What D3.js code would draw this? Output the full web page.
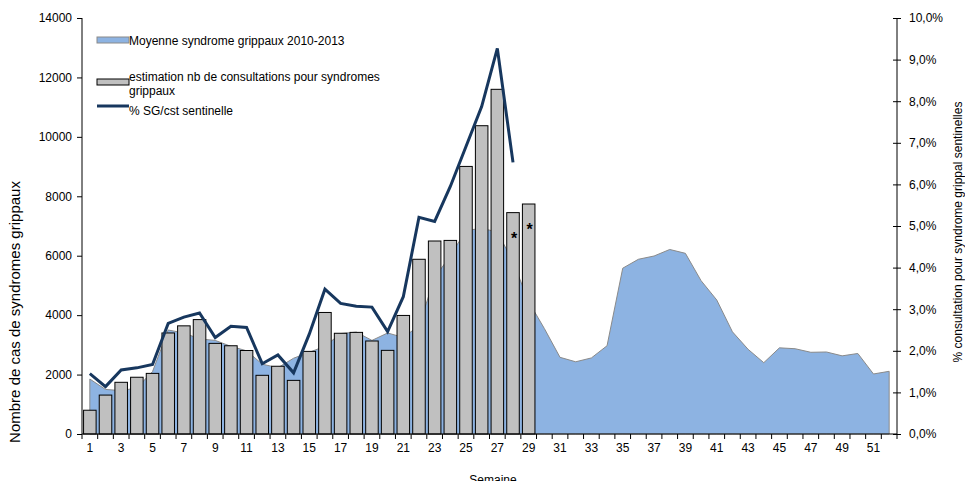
<!DOCTYPE html>
<html>
<head>
<meta charset="utf-8">
<script src="https://cdn.jsdelivr.net/npm/d3@7"></script>
<style>
  body { margin: 0; background: #fff; }
  svg { font-family: "Liberation Sans", Arial, sans-serif; }
</style>
</head>
<body>
<script>
// semaines 1..52
const weeks = d3.range(1, 53);

// moyenne 2010-2013 (aire bleue)
const moyenne = [1850, 1500, 1460, 1550, 2100, 3500, 3400, 3200, 3150, 2950,
  2800, 2350, 2230, 2550, 2750, 2950, 3380, 3430, 3150, 3400,
  3250, 3640, 5260, 6000, 6850, 6920, 6800, 5800, 4450, 3550,
  2580, 2430, 2560, 2970, 5580, 5880, 5990, 6210, 6080, 5160,
  4510, 3440, 2850, 2400, 2900, 2870, 2750, 2760, 2630, 2710,
  2020, 2110];

// estimation nb de consultations (barres), semaines 1..29
const consultations = [800, 1310, 1740, 1910, 2040, 3400, 3640, 3850, 3050, 2970,
  2810, 1975, 2280, 1805, 2780, 4090, 3390, 3420, 3130, 2815,
  3990, 5880, 6495, 6515, 9005, 10375, 11600, 7450, 7740];

// % SG/cst sentinelle, semaines 1..28
const pctSG = [1.45, 1.14, 1.54, 1.59, 1.67, 2.66, 2.81, 2.91, 2.32, 2.59,
  2.56, 1.69, 1.90, 1.47, 2.40, 3.48, 3.14, 3.07, 3.05, 2.46,
  3.30, 5.21, 5.11, 5.95, 6.91, 7.87, 9.27, 6.53];

// semaines marquees d'une etoile
const starred = [28, 29];

const leftTicks = d3.range(0, 14001, 2000);
const rightTicks = d3.range(0, 10.01, 1);

const W = 965, H = 481;
const x0 = 82, x1 = 897, yTop = 18, yBot = 434;

const svg = d3.select("body").append("svg")
  .attr("width", W).attr("height", H);

const x = d3.scaleBand().domain(weeks).range([x0, x1]).paddingInner(0.2).paddingOuter(0.1);
const xc = d => x(d) + x.bandwidth() / 2;
const y = d3.scaleLinear().domain([0, 14000]).range([yBot, yTop]);
const yR = d3.scaleLinear().domain([0, 10]).range([yBot, yTop]);

// aire moyenne
const area = d3.area()
  .x((d, i) => xc(weeks[i]))
  .y0(y(0))
  .y1(d => y(d));

svg.append("path")
  .datum(moyenne)
  .attr("d", area)
  .attr("fill", "#8db3e2")
  .attr("stroke", "#8a8a8a")
  .attr("stroke-width", 1);

// barres
svg.selectAll("rect.bar")
  .data(consultations)
  .enter()
  .append("rect")
  .attr("class", "bar")
  .attr("x", (d, i) => x(weeks[i]))
  .attr("width", x.bandwidth())
  .attr("y", d => y(d))
  .attr("height", d => y(0) - y(d))
  .attr("fill", "#c0c0c0")
  .attr("stroke", "#000")
  .attr("stroke-width", 1);

// etoiles
svg.selectAll("text.star")
  .data(starred)
  .enter()
  .append("text")
  .attr("x", d => xc(d) + 1)
  .attr("y", d => y(consultations[d - 1]) + 31)
  .attr("text-anchor", "middle")
  .attr("font-size", 16)
  .attr("font-weight", "bold")
  .text("*");

// ligne %
const line = d3.line()
  .x((d, i) => xc(weeks[i]))
  .y(d => yR(d));

svg.append("path")
  .datum(pctSG)
  .attr("d", line)
  .attr("fill", "none")
  .attr("stroke", "#17375e")
  .attr("stroke-width", 3)
  .attr("stroke-linejoin", "miter");

// axe gauche
const axL = svg.append("g")
  .attr("transform", `translate(${x0},0)`)
  .call(d3.axisLeft(y).tickValues(leftTicks).tickSize(5).tickPadding(5).tickFormat(d3.format("d")));

// axe droit
const axR = svg.append("g")
  .attr("transform", `translate(${x1},0)`)
  .call(d3.axisRight(yR).tickValues(rightTicks).tickSize(4).tickPadding(8)
    .tickFormat(d => d.toFixed(1).replace(".", ",") + "%"));
axR.selectAll(".tick line").attr("x1", -4);

// axe x
const axX = svg.append("g")
  .attr("transform", `translate(0,${yBot})`)
  .call(d3.axisBottom(x).tickSize(0).tickPadding(9)
    .tickFormat(d => d % 2 === 1 ? d : ""));
axX.select(".domain").attr("d", `M${x0},0H${x1}`);
// graduations aux limites des categories
axX.selectAll("line.cat")
  .data(d3.range(0, 53))
  .enter()
  .append("line")
  .attr("class", "cat")
  .attr("x1", i => x0 + i * (x1 - x0) / 52)
  .attr("x2", i => x0 + i * (x1 - x0) / 52)
  .attr("y1", 0).attr("y2", 5)
  .attr("stroke", "#000");

[axL, axR, axX].forEach(g => {
  g.selectAll("text").attr("font-size", 12).attr("fill", "#000")
    .attr("font-family", "'Liberation Sans', Arial, sans-serif");
  g.select(".domain").attr("stroke", "#000");
  g.selectAll(".tick line").attr("stroke", "#000");
});
axL.select(".domain").attr("d", `M0,${yBot}V${yTop}`);
axR.select(".domain").attr("d", `M0,${yBot}V${yTop}`);

// titres
svg.append("text")
  .attr("transform", "translate(20,312) rotate(-90)")
  .attr("text-anchor", "middle")
  .attr("font-size", 15)
  .text("Nombre de cas de syndromes grippaux");

svg.append("text")
  .attr("transform", "translate(962,232) rotate(-90)")
  .attr("text-anchor", "middle")
  .attr("font-size", 12)
  .text("% consultation pour syndrome grippal sentinelles");

svg.append("text")
  .attr("x", 493).attr("y", 484)
  .attr("text-anchor", "middle")
  .attr("font-size", 12)
  .text("Semaine");

// legende
const lg = svg.append("g").attr("font-size", 12);
lg.append("rect").attr("x", 97).attr("y", 37).attr("width", 32).attr("height", 6)
  .attr("fill", "#8db3e2").attr("stroke", "#8a8a8a");
lg.append("text").attr("x", 129).attr("y", 44.5).text("Moyenne syndrome grippaux 2010-2013");

lg.append("rect").attr("x", 97).attr("y", 79).attr("width", 32).attr("height", 6)
  .attr("fill", "#c0c0c0").attr("stroke", "#000");
lg.append("text").attr("x", 129).attr("y", 81).text("estimation nb de consultations pour syndromes");
lg.append("text").attr("x", 129).attr("y", 95).text("grippaux");

lg.append("line").attr("x1", 97).attr("x2", 129).attr("y1", 106).attr("y2", 106)
  .attr("stroke", "#17375e").attr("stroke-width", 3);
lg.append("text").attr("x", 129).attr("y", 115).text("% SG/cst sentinelle");
</script>
</body>
</html>
